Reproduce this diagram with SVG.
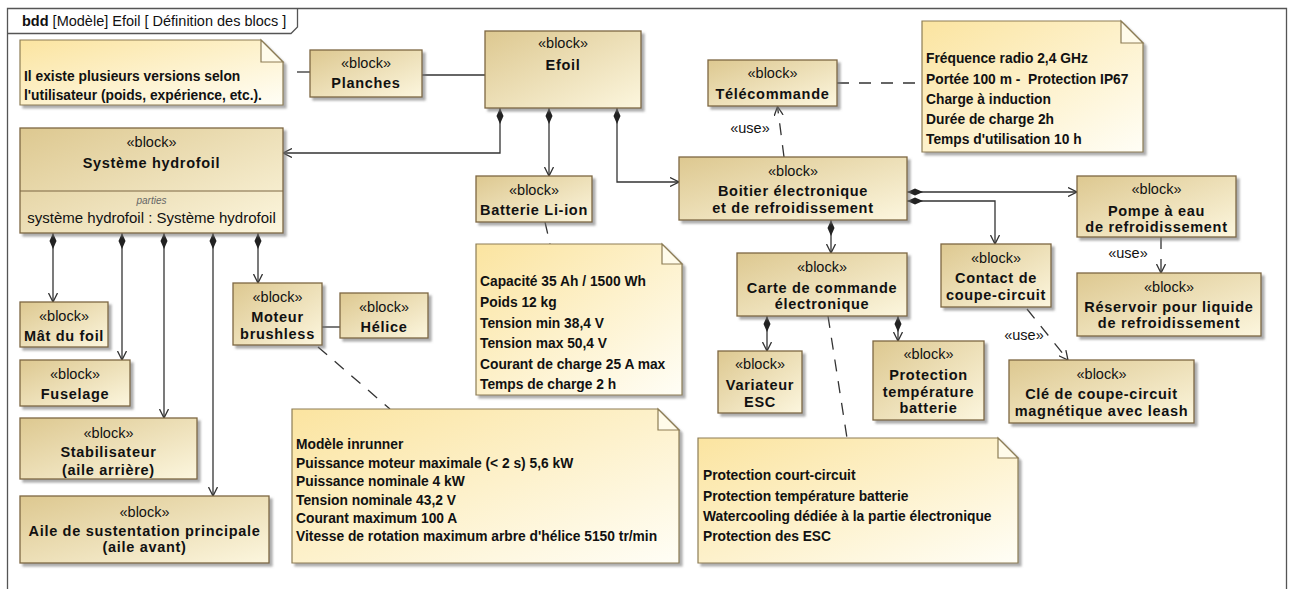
<svg xmlns="http://www.w3.org/2000/svg" width="1290" height="589" viewBox="0 0 1290 589">
<style>
text{font-family:"Liberation Sans",Arial,sans-serif;fill:#111}
.st{font-size:14.5px;text-anchor:middle}
.nm{font-size:14.5px;font-weight:bold;text-anchor:middle;letter-spacing:0.7px}
.nt{font-size:13.8px;font-weight:bold}
.blk{fill:url(#gb);stroke:#7d6742;stroke-width:1.3;filter:url(#sh)}
.note{fill:url(#gn);stroke:#8d7d55;stroke-width:1.2;filter:url(#sh)}
.fold{fill:#fffbea;stroke:#8d7d55;stroke-width:1.2}
.ln{fill:none;stroke:#333;stroke-width:1.3}
.ar{marker-end:url(#arr)}
.dm{marker-start:url(#dia)}
.da{stroke-dasharray:12 10}
</style>
<defs>
<linearGradient id="gb" x1="0" y1="0" x2="1" y2="1">
<stop offset="0" stop-color="#ddc890"/>
<stop offset="1" stop-color="#fcf6de"/>
</linearGradient>
<linearGradient id="gn" x1="0" y1="0" x2="1" y2="1">
<stop offset="0" stop-color="#fbe4a0"/>
<stop offset="1" stop-color="#fffef6"/>
</linearGradient>
<filter id="sh" x="-10%" y="-10%" width="130%" height="130%">
<feDropShadow dx="3" dy="3" stdDeviation="1.2" flood-color="#777" flood-opacity="0.6"/>
</filter>
<marker id="arr" viewBox="0 0 10 10" refX="9" refY="5" markerWidth="10" markerHeight="10" markerUnits="userSpaceOnUse" orient="auto">
<path d="M0,0.5 L9,5 L0,9.5" fill="none" stroke="#333" stroke-width="1.3"/>
</marker>
<marker id="dia" viewBox="0 0 16 8" refX="0" refY="4" markerWidth="16" markerHeight="8" markerUnits="userSpaceOnUse" orient="auto">
<path d="M0,4 L8,0.5 L16,4 L8,7.5 Z" fill="#222"/>
</marker>
</defs>
<rect x="0" y="0" width="1290" height="589" fill="#fff"/>

<g id="frame">
<path d="M7.5,600 V8.5 H1286.5 V600" fill="none" stroke="#555" stroke-width="1.3"/>
<path d="M7.5,33.5 H291 L297.5,27 V8.5" fill="none" stroke="#555" stroke-width="1.3"/>
<text x="22" y="26" font-size="14.5"><tspan font-weight="bold">bdd</tspan> [Modèle] Efoil [ Définition des blocs ]</text>
</g>

<g id="connectors">
<line class="ln" x1="297" y1="72" x2="310" y2="72"/>
<line class="ln" x1="422" y1="75" x2="485" y2="75"/>
<path class="ln dm ar" d="M500,108 V153 H283"/>
<path class="ln dm ar" d="M549,108 V176"/>
<path class="ln dm ar" d="M617,108 V182 H679"/>
<line class="ln da ar" x1="784" y1="157" x2="777.5" y2="106.5"/>
<line class="ln da" x1="837" y1="83" x2="922" y2="83"/>
<line class="ln da" x1="545" y1="222" x2="550" y2="244"/>
<path class="ln dm ar" d="M907,192 H1077"/>
<path class="ln dm ar" d="M907,201 H995 V244"/>
<path class="ln dm ar" d="M831,220 V253"/>
<line class="ln da ar" x1="1161" y1="237" x2="1161" y2="273"/>
<line class="ln da ar" x1="1027" y1="309" x2="1068" y2="360"/>
<path class="ln dm ar" d="M767,316 V351"/>
<path class="ln dm ar" d="M898,316 V341"/>
<line class="ln da" x1="828" y1="316" x2="847" y2="438"/>
<path class="ln dm ar" d="M53,233 V302"/>
<path class="ln dm ar" d="M122,233 V360"/>
<path class="ln dm ar" d="M164,233 V418"/>
<path class="ln dm ar" d="M213,233 V496"/>
<path class="ln dm ar" d="M258,233 V283"/>
<line class="ln" x1="322" y1="327" x2="340" y2="327"/>
<line class="ln da" x1="318" y1="347" x2="390" y2="409"/>
<text class="st" x="750" y="133">«use»</text>
<text class="st" x="1128" y="258">«use»</text>
<text class="st" x="1024" y="340">«use»</text>
</g>

<g id="note-versions">
<path class="note" d="M20,40 H261 L283,62 V105 H20 Z"/>
<path class="fold" d="M261,40 V62 H283 Z"/>
<text class="nt" x="24" y="81">Il existe plusieurs versions selon</text>
<text class="nt" x="24" y="100">l'utilisateur (poids, expérience, etc.).</text>
</g>

<g id="note-telecommande">
<path class="note" d="M922,21 H1121 L1143,43 V152 H922 Z"/>
<path class="fold" d="M1121,21 V43 H1143 Z"/>
<text class="nt" x="926" y="63">Fréquence radio 2,4 GHz</text>
<text class="nt" x="926" y="84">Portée 100 m -&#160; Protection IP67</text>
<text class="nt" x="926" y="104">Charge à induction</text>
<text class="nt" x="926" y="124">Durée de charge 2h</text>
<text class="nt" x="926" y="144">Temps d'utilisation 10 h</text>
</g>

<g id="note-batterie">
<path class="note" d="M476,244 H662 L682,264 V395 H476 Z"/>
<path class="fold" d="M662,244 V264 H682 Z"/>
<text class="nt" x="480" y="286">Capacité 35 Ah / 1500 Wh</text>
<text class="nt" x="480" y="307">Poids 12 kg</text>
<text class="nt" x="480" y="328">Tension min 38,4 V</text>
<text class="nt" x="480" y="348">Tension max 50,4 V</text>
<text class="nt" x="480" y="369">Courant de charge 25 A max</text>
<text class="nt" x="480" y="389">Temps de charge 2 h</text>
</g>

<g id="note-moteur">
<path class="note" d="M292,409 H658 L679,430 V563 H292 Z"/>
<path class="fold" d="M658,409 V430 H679 Z"/>
<text class="nt" x="296" y="449">Modèle inrunner</text>
<text class="nt" x="296" y="468">Puissance moteur maximale (&lt; 2 s) 5,6 kW</text>
<text class="nt" x="296" y="486">Puissance nominale 4 kW</text>
<text class="nt" x="296" y="505">Tension nominale 43,2 V</text>
<text class="nt" x="296" y="523">Courant maximum 100 A</text>
<text class="nt" x="296" y="541">Vitesse de rotation maximum arbre d'hélice 5150 tr/min</text>
</g>

<g id="note-carte">
<path class="note" d="M698,438 H998 L1018,458 V563 H698 Z"/>
<path class="fold" d="M998,438 V458 H1018 Z"/>
<text class="nt" x="703" y="480">Protection court-circuit</text>
<text class="nt" x="703" y="501">Protection température batterie</text>
<text class="nt" x="703" y="521">Watercooling dédiée à la partie électronique</text>
<text class="nt" x="703" y="541">Protection des ESC</text>
</g>

<g id="planches">
<rect class="blk" x="310" y="50" width="112" height="47"/>
<text class="st" x="366" y="68">«block»</text>
<text class="nm" x="366" y="88">Planches</text>
</g>

<g id="efoil">
<rect class="blk" x="485" y="31" width="156" height="77"/>
<text class="st" x="563" y="48">«block»</text>
<text class="nm" x="563" y="70">Efoil</text>
</g>

<g id="systeme-hydrofoil">
<rect class="blk" x="20" y="128" width="263" height="105"/>
<line x1="20" y1="191" x2="283" y2="191" stroke="#7d6742" stroke-width="1.2"/>
<text class="st" x="151.5" y="147">«block»</text>
<text class="nm" x="151.5" y="168">Système hydrofoil</text>
<text x="151.5" y="204" font-size="10" font-style="italic" text-anchor="middle" style="fill:#666">parties</text>
<text x="151.5" y="223" font-size="15" text-anchor="middle">système hydrofoil : Système hydrofoil</text>
</g>

<g id="batterie">
<rect class="blk" x="476" y="176" width="116" height="46"/>
<text class="st" x="534" y="195">«block»</text>
<text class="nm" x="534" y="215">Batterie Li-ion</text>
</g>

<g id="telecommande">
<rect class="blk" x="708" y="60" width="129" height="46"/>
<text class="st" x="772.5" y="78">«block»</text>
<text class="nm" x="772.5" y="99">Télécommande</text>
</g>

<g id="boitier">
<rect class="blk" x="679" y="157" width="228" height="63"/>
<text class="st" x="793" y="176">«block»</text>
<text class="nm" x="793" y="196">Boitier électronique</text>
<text class="nm" x="793" y="213">et de refroidissement</text>
</g>

<g id="pompe">
<rect class="blk" x="1077" y="176" width="159" height="61"/>
<text class="st" x="1156.5" y="194">«block»</text>
<text class="nm" x="1156.5" y="216">Pompe à eau</text>
<text class="nm" x="1156.5" y="232">de refroidissement</text>
</g>

<g id="reservoir">
<rect class="blk" x="1077" y="273" width="184" height="63"/>
<text class="st" x="1169" y="292">«block»</text>
<text class="nm" x="1169" y="312">Réservoir pour liquide</text>
<text class="nm" x="1169" y="328">de refroidissement</text>
</g>

<g id="contact">
<rect class="blk" x="941" y="244" width="110" height="63"/>
<text class="st" x="996" y="263">«block»</text>
<text class="nm" x="996" y="283">Contact de</text>
<text class="nm" x="996" y="300">coupe-circuit</text>
</g>

<g id="cle">
<rect class="blk" x="1009" y="360" width="185" height="63"/>
<text class="st" x="1101.5" y="379">«block»</text>
<text class="nm" x="1101.5" y="399">Clé de coupe-circuit</text>
<text class="nm" x="1101.5" y="416">magnétique avec leash</text>
</g>

<g id="carte">
<rect class="blk" x="737" y="253" width="170" height="63"/>
<text class="st" x="822" y="272">«block»</text>
<text class="nm" x="822" y="293">Carte de commande</text>
<text class="nm" x="822" y="309">électronique</text>
</g>

<g id="variateur">
<rect class="blk" x="718" y="351" width="84" height="62"/>
<text class="st" x="760" y="369">«block»</text>
<text class="nm" x="760" y="390">Variateur</text>
<text class="nm" x="760" y="407">ESC</text>
</g>

<g id="protection">
<rect class="blk" x="873" y="341" width="111" height="79"/>
<text class="st" x="928.5" y="359">«block»</text>
<text class="nm" x="928.5" y="380">Protection</text>
<text class="nm" x="928.5" y="397">température</text>
<text class="nm" x="928.5" y="413">batterie</text>
</g>

<g id="mat">
<rect class="blk" x="20" y="302" width="88" height="45"/>
<text class="st" x="64" y="321">«block»</text>
<text class="nm" x="64" y="341">Mât du foil</text>
</g>

<g id="fuselage">
<rect class="blk" x="20" y="360" width="110" height="46"/>
<text class="st" x="75" y="379">«block»</text>
<text class="nm" x="75" y="399">Fuselage</text>
</g>

<g id="stabilisateur">
<rect class="blk" x="20" y="418" width="177" height="61"/>
<text class="st" x="108.5" y="438">«block»</text>
<text class="nm" x="108.5" y="457">Stabilisateur</text>
<text class="nm" x="108.5" y="475">(aile arrière)</text>
</g>

<g id="aile">
<rect class="blk" x="20" y="496" width="249" height="67"/>
<text class="st" x="144.5" y="517">«block»</text>
<text class="nm" x="144.5" y="536">Aile de sustentation principale</text>
<text class="nm" x="144.5" y="552">(aile avant)</text>
</g>

<g id="moteur">
<rect class="blk" x="233" y="283" width="89" height="62"/>
<text class="st" x="277.5" y="302">«block»</text>
<text class="nm" x="277.5" y="322">Moteur</text>
<text class="nm" x="277.5" y="339">brushless</text>
</g>

<g id="helice">
<rect class="blk" x="340" y="293" width="88" height="45"/>
<text class="st" x="384" y="312">«block»</text>
<text class="nm" x="384" y="332">Hélice</text>
</g>
</svg>
